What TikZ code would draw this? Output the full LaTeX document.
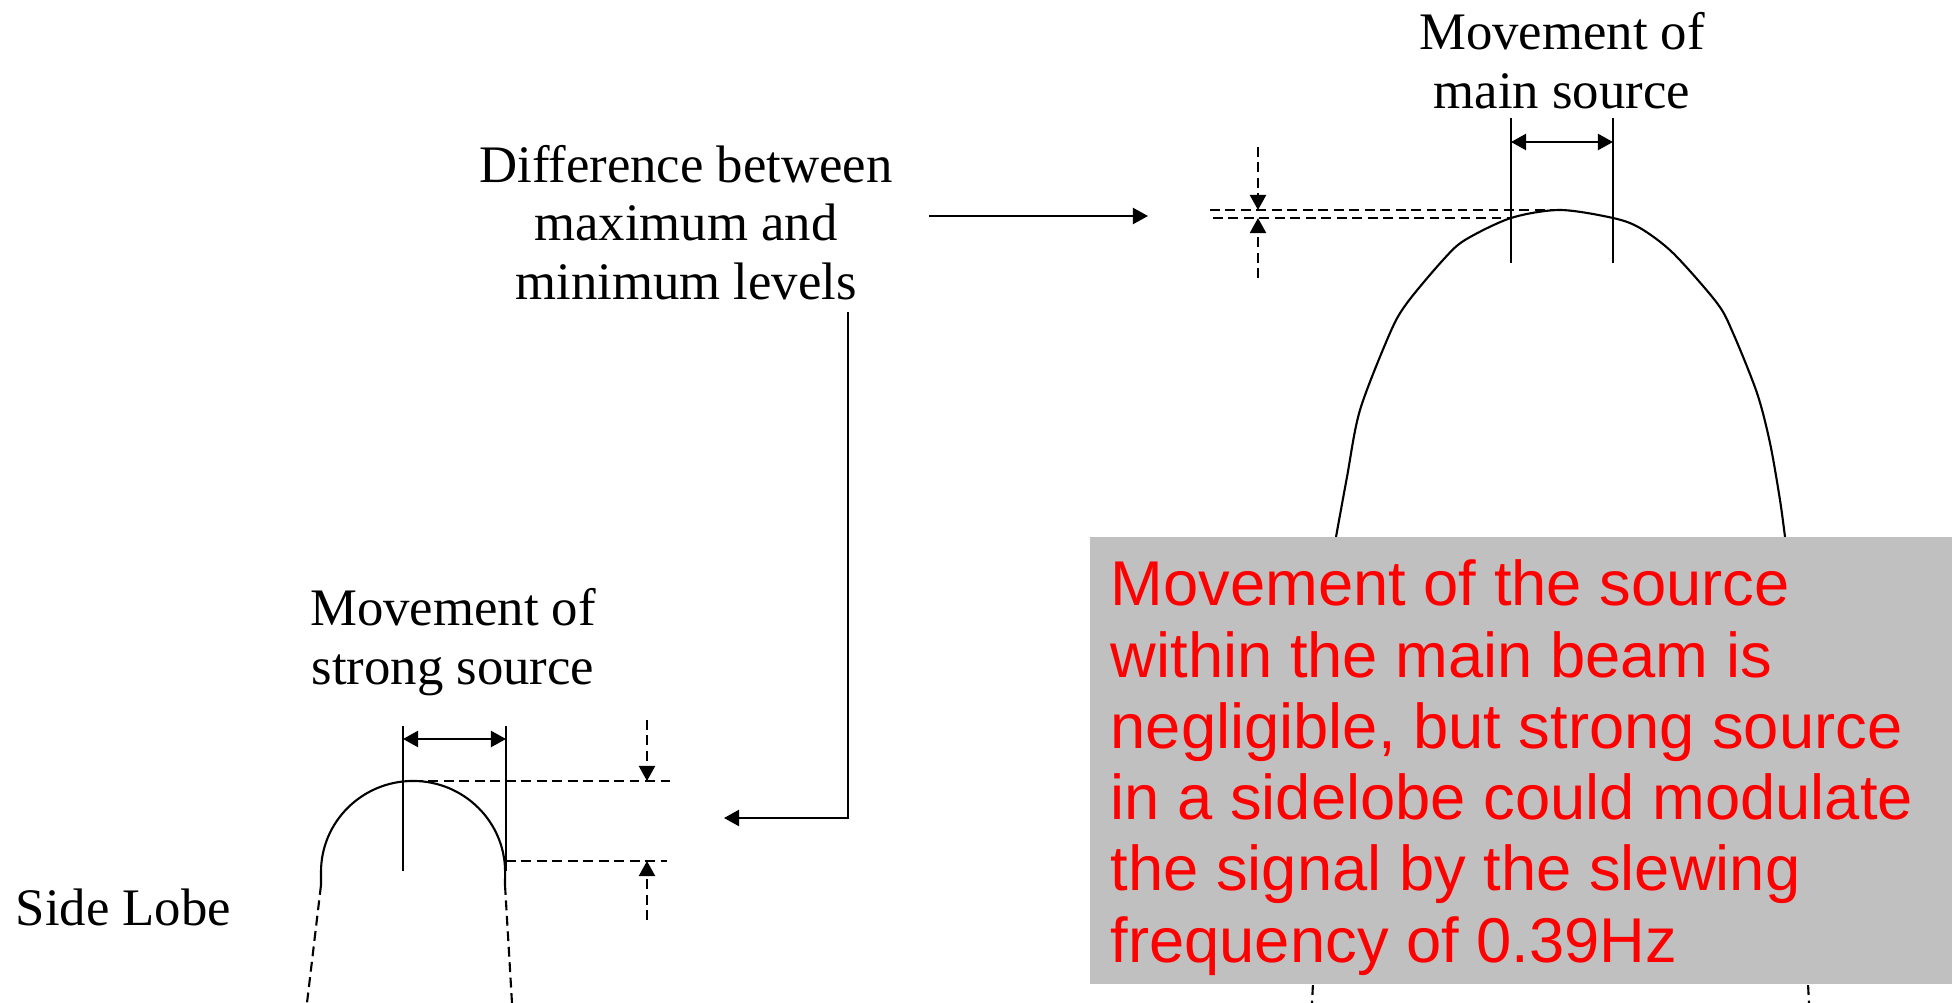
\documentclass[tikz,border=0pt]{standalone}
\usepackage{fontspec}
\setmainfont{Liberation Serif}
\newfontfamily\notefont{Liberation Sans}
\usetikzlibrary{arrows.meta}
\definecolor{notegray}{RGB}{192,192,192}
\definecolor{notered}{RGB}{255,0,0}
\tikzset{
    txt/.style={align=center, font=\fontsize{15}{16.6}\selectfont, inner sep=0pt},
    note/.style={rectangle, fill=notegray, inner sep=0pt},
    notetxt/.style={align=left, font=\notefont\fontsize{18}{20.25}\selectfont, text=notered, inner sep=0pt},
    beam/.style={line width=0.6pt},
    dashln/.style={line width=0.6pt, dash pattern=on 2.8pt off 1.6pt},
    arr/.style={-{Triangle[length=1.5mm, width=1.6mm]}, line width=0.6pt},
    dimarr/.style={{Triangle[length=1.5mm, width=1.6mm]}-{Triangle[length=1.5mm, width=1.6mm]}, line width=0.6pt},
    dasharr/.style={arr, dash pattern=on 2.8pt off 1.6pt}
}
\begin{document}
\begin{tikzpicture}[x=0.01cm, y=-0.01cm]
    \useasboundingbox (0,0) rectangle (1956,1003);
    % labels (base = last line)
    \node[txt, anchor=base] (difflbl) at (686,299) {Difference between\\maximum and\\minimum levels};
    \node[txt, anchor=base] (mainlbl) at (1562,108) {Movement of\\main source};
    \node[txt, anchor=base] (stronglbl) at (453,684) {Movement of\\strong source};
    \node[txt, anchor=base west] (sidelbl) at (15,925) {Side Lobe};

    % main beam
    \coordinate (mpk) at (1560,210);
    \coordinate (ml) at (1511,218);
    \coordinate (mr) at (1613,218);
    \draw[beam] plot[smooth, tension=0.5] coordinates {(1336,537) (1347,477) (1360,410) (1390,333) (1407,303) (1443,260) (1465,240) (ml) (mpk) (mr) (1640,228) (1673,253) (1717,303) (1733,333) (1757,393) (1770,443) (1780,500) (1785,537)};
    \draw[dashln] (1336,537) -- (1312,1003);
    \draw[dashln] (1785,537) -- (1809,1003);
    \draw[beam] (1511,118) -- (1511,263);
    \draw[beam] (1613,118) -- (1613,263);
    \draw[dimarr] (1511,142) -- (1613,142);
    \draw[dashln] (1210,210) -- (mpk);
    \draw[dashln] (1213,218) -- (ml);
    \draw[dasharr] (1258,147) -- (1258,210);
    \draw[dasharr] (1258,278) -- (1258,218);

    % side lobe
    \coordinate (spk) at (413,781);
    \draw[beam] (321,885) -- (321,872) arc[start angle=180, end angle=0, x radius=0.92cm, y radius=0.91cm] -- (505,885);
    \draw[dashln] (321,885) -- (307,1003);
    \draw[dashln] (505,885) -- (512,1003);
    \draw[beam] (403,726) -- (403,871);
    \draw[beam] (506,726) -- (506,871);
    \draw[dimarr] (403,739) -- (506,739);
    \draw[dashln] (spk) -- (670,781);
    \draw[dashln] (506,861) -- (667,861);
    \draw[dasharr] (647,720) -- (647,781);
    \draw[dasharr] (647,920) -- (647,861);

    % connectors from the label
    \coordinate (toright) at (929,216);
    \coordinate (mainlvl) at (1148,216);
    \coordinate (todown) at (848,312);
    \coordinate (sidelvl) at (724,818);
    \draw[arr] (toright) -- (mainlvl);
    \draw[arr] (todown) |- (sidelvl);

    % note box
    \node[note, anchor=north west, minimum width=8.62cm, minimum height=4.47cm] (note) at (1089,536) {};
    \node[notetxt, anchor=base west] (notetext) at (1110,962) {Movement of the source\\within the main beam is\\negligible, but strong source\\in a sidelobe could modulate\\the signal by the slewing\\frequency of 0.39Hz};
\end{tikzpicture}
\end{document}
